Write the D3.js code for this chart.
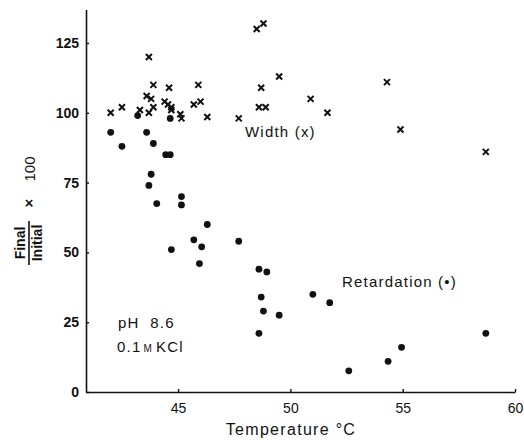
<!DOCTYPE html>
<html>
<head>
<meta charset="utf-8">
<script src="https://cdn.jsdelivr.net/npm/d3@7"></script>
<style>
  body { margin: 0; background: #fff; }
  svg text { font-family: "Liberation Sans", Arial, sans-serif; fill: #111; }
</style>
</head>
<body>
<div id="chart"></div>
<script>
// Width (x) points: temperature, final/initial x 100
const widthTemp = [42.0, 42.5, 43.3, 43.7, 43.6, 43.8, 43.9, 43.9, 43.7, 44.6, 44.4, 44.55,
  44.7, 44.7, 45.1, 45.15, 45.9, 45.7, 46.0, 46.3, 47.7, 48.5, 48.8, 49.5, 48.7, 48.6,
  48.9, 50.9, 51.65, 54.3, 54.9, 58.7];
const widthVal = [100, 102, 101, 100, 106, 105, 102, 110, 120, 109, 104, 103,
  102, 101, 99.5, 98, 110, 103, 104, 98.5, 98, 130, 132, 113, 109, 102,
  102, 105, 100, 111, 94, 86];

// Retardation (dots)
const retTemp = [42.0, 42.5, 43.2, 43.6, 43.9, 44.45, 44.65, 44.65, 43.8, 43.7, 44.05, 45.15,
  45.15, 46.3, 45.7, 47.7, 44.7, 46.05, 45.95, 48.6, 48.95, 48.7, 48.8, 48.6, 49.5,
  51.0, 51.75, 52.6, 54.35, 54.95, 58.7];
const retVal = [93, 88, 99, 93, 89, 85, 85, 98, 78, 74, 67.5, 70,
  67, 60, 54.5, 54, 51, 52, 46, 44, 43, 34, 29, 21, 27.5,
  35, 32, 7.6, 11, 16, 21];

const xTicks = [45, 50, 55, 60];
const yTicks = [0, 25, 50, 75, 100, 125];

const W = 524, H = 440;
const margin = { top: 9.5, right: 9, bottom: 48, left: 86 };

const svg = d3.select('#chart').append('svg')
  .attr('width', W)
  .attr('height', H);

const x = d3.scaleLinear().domain([40.9, 60]).range([margin.left, W - margin.right]);
const y = d3.scaleLinear().domain([0, 137]).range([H - margin.bottom, margin.top]);

// axes
const xAxis = svg.append('g')
  .attr('transform', `translate(0,${H - margin.bottom})`)
  .call(d3.axisBottom(x).tickValues(xTicks).tickSize(-3).tickSizeOuter(0).tickPadding(11));

const yAxis = svg.append('g')
  .attr('transform', `translate(${margin.left},0)`)
  .call(d3.axisLeft(y).tickValues(yTicks).tickSize(-3).tickSizeOuter(0).tickPadding(7));

[xAxis, yAxis].forEach(g => {
  g.select('.domain').attr('stroke', '#111').attr('stroke-width', 1.6);
  g.selectAll('.tick line').attr('stroke', '#111').attr('stroke-width', 1.4);
  g.selectAll('.tick text').attr('font-size', 14).attr('fill', '#111');
});
yAxis.selectAll('.tick text').attr('font-weight', 'bold');

// x axis title
svg.append('text')
  .attr('x', 291)
  .attr('y', 435)
  .attr('text-anchor', 'middle')
  .attr('font-size', 16)
  .attr('letter-spacing', 1.3)
  .text('Temperature  °C');

// y axis title: Final / Initial x 100
const yl = svg.append('g').attr('transform', 'translate(29,215) rotate(-90)');
yl.append('text').attr('x', -28).attr('y', -4).attr('text-anchor', 'middle')
  .attr('font-size', 14).attr('font-weight', 'bold').text('Final');
yl.append('line').attr('x1', -50).attr('x2', -6).attr('y1', 0).attr('y2', 0)
  .attr('stroke', '#111').attr('stroke-width', 1.6);
yl.append('text').attr('x', -28).attr('y', 13).attr('text-anchor', 'middle')
  .attr('font-size', 14).attr('font-weight', 'bold').text('Initial');
yl.append('text').attr('x', 12).attr('y', 5).attr('text-anchor', 'middle')
  .attr('font-size', 15).attr('font-weight', 'bold').text('×');
yl.append('text').attr('x', 46).attr('y', 6).attr('text-anchor', 'middle')
  .attr('font-size', 15).text('100');

// width crosses
const cross = 'M-3,-3L3,3M-3,3L3,-3';
svg.append('g').selectAll('path')
  .data(d3.range(widthTemp.length))
  .join('path')
  .attr('d', cross)
  .attr('transform', i => `translate(${x(widthTemp[i])},${y(widthVal[i])})`)
  .attr('stroke', '#111')
  .attr('stroke-width', 2)
  .attr('fill', 'none');

// retardation dots
svg.append('g').selectAll('circle')
  .data(d3.range(retTemp.length))
  .join('circle')
  .attr('cx', i => x(retTemp[i]))
  .attr('cy', i => y(retVal[i]))
  .attr('r', 3.4)
  .attr('fill', '#111');

// annotations
const note = (tx, ty) => svg.append('text').attr('x', tx).attr('y', ty)
  .attr('font-size', 15).attr('letter-spacing', 1.2).attr('xml:space', 'preserve');
note(245, 137).text('Width (x)');
note(342, 287).text('Retardation (•)');
note(118, 328).text('pH  8.6');
const kcl = note(117, 352);
kcl.append('tspan').text('0.1');
kcl.append('tspan').attr('font-size', 10).attr('dx', 2).text('M');
kcl.append('tspan').attr('dx', 3).text('KCl');
</script>
</body>
</html>
